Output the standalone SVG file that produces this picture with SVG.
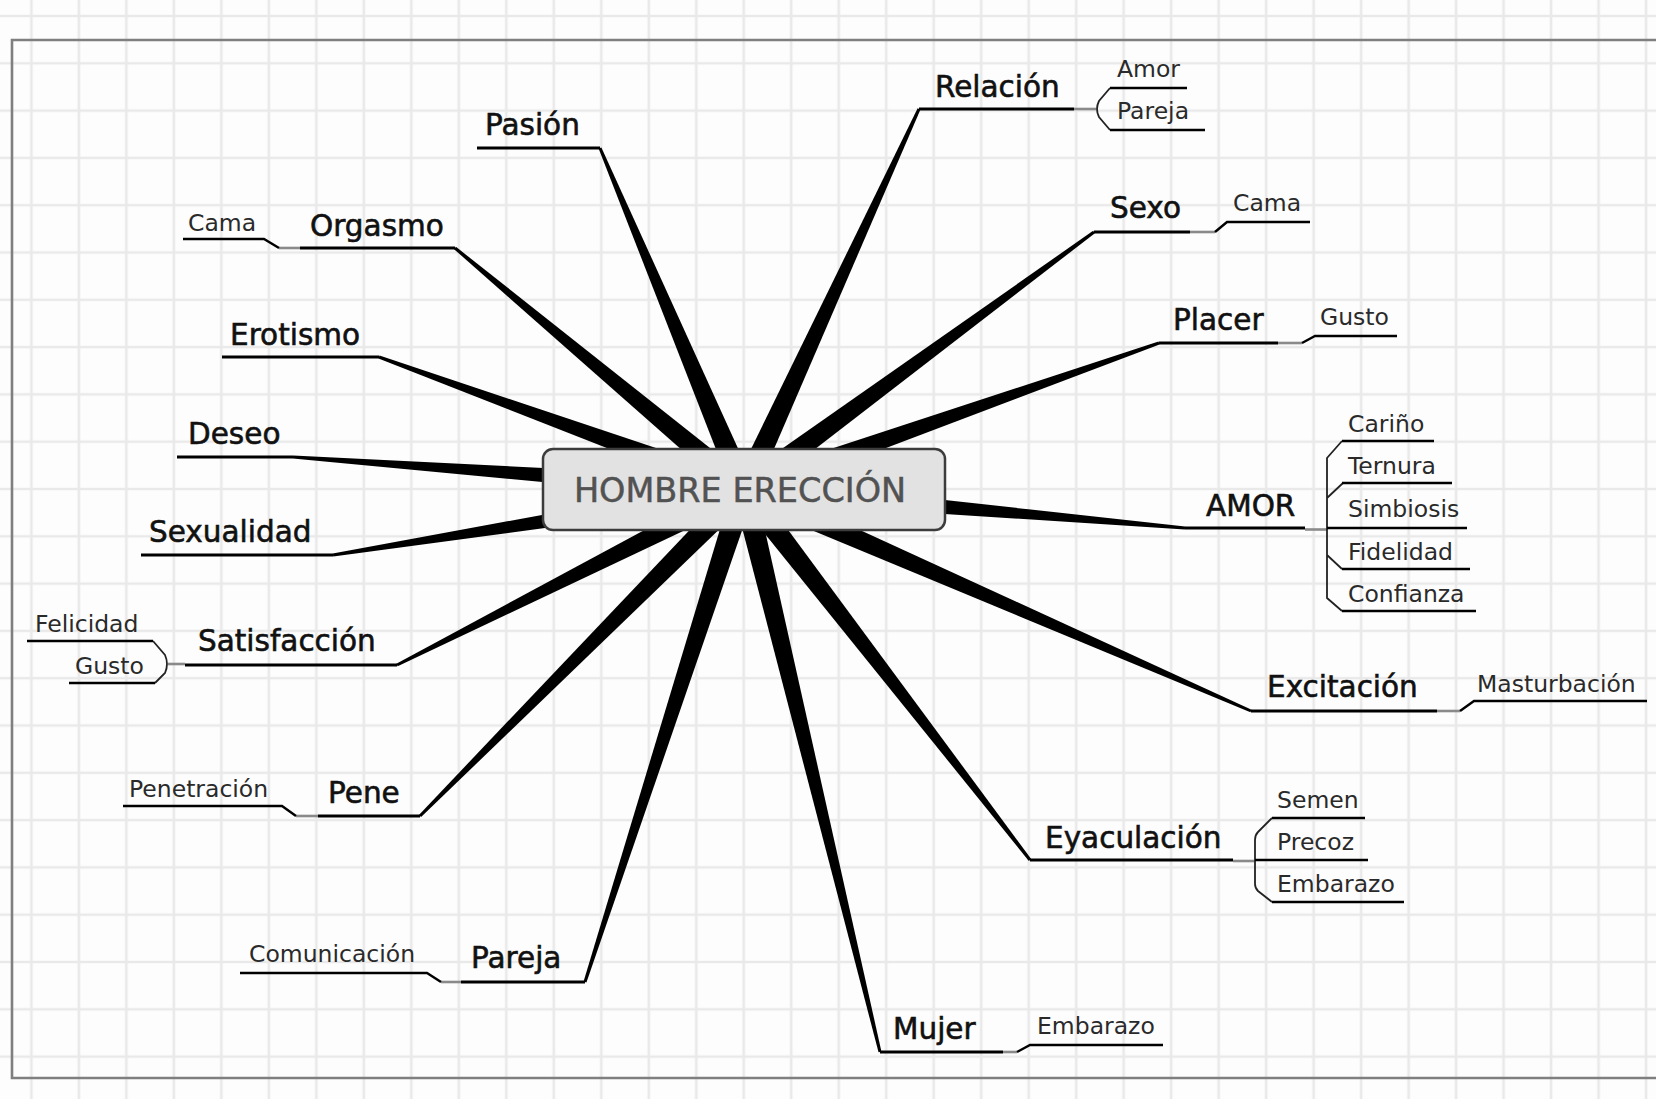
<svg xmlns="http://www.w3.org/2000/svg" width="1656" height="1099" viewBox="0 0 1656 1099">
  <defs>
    <pattern id="grid" x="7.655" y="-7.65" width="47.49" height="47.3" patternUnits="userSpaceOnUse">
      <path d="M23.745 0V47.3M0 23.65H47.49" stroke="#e9e9e9" stroke-width="2.6" fill="none"/>
    </pattern>
    <!-- unit taper: thin at x=0 (outer end), wide at x=1 (hub); scaled along x only -->
    <polygon id="taper" points="0,-1.5 1,-11.5 1,11.5 0,1.5"/>
  </defs>
  <style>
    .main { font-family: "DejaVu Sans", "Liberation Sans", sans-serif; font-size: 29.5px; fill: #111; stroke: #111; stroke-width: 0.6px; }
    .sub { font-family: "DejaVu Sans", "Liberation Sans", sans-serif; font-size: 23.5px; fill: #2a2a2a; }
    .center { font-family: "DejaVu Sans", "Liberation Sans", sans-serif; font-size: 33.5px; fill: #525252; stroke: #525252; stroke-width: 0.5px; }
    .ul { stroke: #000; stroke-width: 3; fill: none; }
    .sul { stroke: #000; stroke-width: 2.4; fill: none; }
    .stub { stroke: #8a8a8a; stroke-width: 2.6; fill: none; }
    .br { stroke: #222; stroke-width: 1.8; fill: none; }
    .wedge { fill: #000; }
  </style>

  <!-- background and frame -->
  <rect width="1656" height="1099" fill="#fdfdfd"/>
  <rect width="1656" height="1099" fill="url(#grid)"/>
  <path d="M1656 40H12V1078H1656" stroke="#7f7f7f" stroke-width="2.6" fill="none"/>

  <!-- tapered connectors from the hub -->
  <g id="connectors" class="wedge">
    <use href="#taper" transform="translate(600,148) rotate(67.13) scale(370.6,1)"/>
    <use href="#taper" transform="translate(455,248) rotate(39.88) scale(376.6,1)"/>
    <use href="#taper" transform="translate(379,357) rotate(19.95) scale(388.3,1)"/>
    <use href="#taper" transform="translate(293,457) rotate(4.12) scale(452.2,1)"/>
    <use href="#taper" transform="translate(333,555) rotate(-9.06) scale(416.2,1)"/>
    <use href="#taper" transform="translate(397,665) rotate(-26.83) scale(388.9,1)"/>
    <use href="#taper" transform="translate(420,816) rotate(-45.22) scale(460,1)"/>
    <use href="#taper" transform="translate(585,982) rotate(-72.11) scale(517.5,1)"/>
    <use href="#taper" transform="translate(880,1052) rotate(-103.59) scale(578.7,1)"/>
    <use href="#taper" transform="translate(1030,860) rotate(-127.67) scale(468,1)"/>
    <use href="#taper" transform="translate(1251,711) rotate(-156.4) scale(553.3,1)"/>
    <use href="#taper" transform="translate(1185,528) rotate(-175.01) scale(442.7,1)"/>
    <use href="#taper" transform="translate(1159,343) rotate(160.56) scale(440.1,1)"/>
    <use href="#taper" transform="translate(1094,232) rotate(143.66) scale(434.5,1)"/>
    <use href="#taper" transform="translate(919,109) rotate(114.7) scale(418.8,1)"/>
  </g>

  <!-- central topic -->
  <g id="hub">
    <rect x="543" y="449" width="402" height="81" rx="10" fill="#e2e2e2" stroke="#3c3c3c" stroke-width="2.5"/>
    <text class="center" x="740" y="502" text-anchor="middle">HOMBRE ERECCIÓN</text>
  </g>

  <!-- left side -->
  <g id="pasion">
    <text class="main" x="485" y="135">Pasión</text>
    <path class="ul" d="M477 148H600"/>
  </g>
  <g id="orgasmo">
    <text class="main" x="310" y="236">Orgasmo</text>
    <path class="ul" d="M300 248H455"/>
    <path class="stub" d="M279 248H300"/>
    <path class="sul" d="M183 239H264L279 248"/>
    <text class="sub" x="188" y="231">Cama</text>
  </g>
  <g id="erotismo">
    <text class="main" x="230" y="345">Erotismo</text>
    <path class="ul" d="M222 357H379"/>
  </g>
  <g id="deseo">
    <text class="main" x="188" y="444">Deseo</text>
    <path class="ul" d="M177 457H293"/>
  </g>
  <g id="sexualidad">
    <text class="main" x="149" y="542">Sexualidad</text>
    <path class="ul" d="M141 555H333"/>
  </g>
  <g id="satisfaccion">
    <text class="main" x="198" y="651">Satisfacción</text>
    <path class="ul" d="M185 665H397"/>
    <path class="stub" d="M168 664H185"/>
    <path class="br" d="M153 641L165 655Q169 664 165 673L155 683"/>
    <path class="sul" d="M27 641H153M69 683H155"/>
    <text class="sub" x="35" y="632">Felicidad</text>
    <text class="sub" x="75" y="674">Gusto</text>
  </g>
  <g id="pene">
    <text class="main" x="328" y="803">Pene</text>
    <path class="ul" d="M318 816H420"/>
    <path class="stub" d="M296 816H318"/>
    <path class="sul" d="M123 806H282L296 816"/>
    <text class="sub" x="129" y="797">Penetración</text>
  </g>
  <g id="pareja">
    <text class="main" x="471" y="968">Pareja</text>
    <path class="ul" d="M461 982H585"/>
    <path class="stub" d="M441 982H461"/>
    <path class="sul" d="M240 973H427L441 982"/>
    <text class="sub" x="249" y="962">Comunicación</text>
  </g>
  <g id="mujer">
    <text class="main" x="893" y="1039">Mujer</text>
    <path class="ul" d="M880 1052H1003"/>
    <path class="stub" d="M1003 1052H1017"/>
    <path class="sul" d="M1017 1052L1030 1045H1163"/>
    <text class="sub" x="1037" y="1034">Embarazo</text>
  </g>

  <!-- right side -->
  <g id="relacion">
    <text class="main" x="935" y="97">Relación</text>
    <path class="ul" d="M919 109H1074"/>
    <path class="stub" d="M1074 109H1096"/>
    <path class="br" d="M1110 88L1099 101Q1095 109 1099 117L1110 130"/>
    <path class="sul" d="M1110 88H1187M1110 130H1205"/>
    <text class="sub" x="1117" y="77">Amor</text>
    <text class="sub" x="1117" y="119">Pareja</text>
  </g>
  <g id="sexo">
    <text class="main" x="1110" y="218">Sexo</text>
    <path class="ul" d="M1094 232H1190"/>
    <path class="stub" d="M1190 232H1215"/>
    <path class="sul" d="M1215 232L1227 222H1310"/>
    <text class="sub" x="1233" y="211">Cama</text>
  </g>
  <g id="placer">
    <text class="main" x="1173" y="330">Placer</text>
    <path class="ul" d="M1159 343H1278"/>
    <path class="stub" d="M1278 343H1302"/>
    <path class="sul" d="M1302 343L1315 336H1397"/>
    <text class="sub" x="1320" y="325">Gusto</text>
  </g>
  <g id="amor">
    <text class="main" x="1206" y="516">AMOR</text>
    <path class="ul" d="M1185 528H1305"/>
    <path class="stub" d="M1305 529.5H1327"/>
    <path class="br" d="M1342 441L1327 458V598L1342 611M1327 498L1343 483M1327 555L1342 569"/>
    <path class="sul" d="M1342 441H1434M1342 483H1452M1327 528H1467M1342 569H1470M1342 611H1476"/>
    <text class="sub" x="1348" y="432">Cariño</text>
    <text class="sub" x="1348" y="474">Ternura</text>
    <text class="sub" x="1348" y="517">Simbiosis</text>
    <text class="sub" x="1348" y="560">Fidelidad</text>
    <text class="sub" x="1348" y="602">Confianza</text>
  </g>
  <g id="excitacion">
    <text class="main" x="1267" y="697">Excitación</text>
    <path class="ul" d="M1251 711H1437"/>
    <path class="stub" d="M1437 711H1460"/>
    <path class="sul" d="M1460 711L1474 701H1647"/>
    <text class="sub" x="1477" y="692">Masturbación</text>
  </g>
  <g id="eyaculacion">
    <text class="main" x="1045" y="848">Eyaculación</text>
    <path class="ul" d="M1030 860H1233"/>
    <path class="stub" d="M1233 861H1255"/>
    <path class="br" d="M1272 818L1258 832Q1255 835 1255 840V884Q1255 888 1258 891L1272 902"/>
    <path class="sul" d="M1272 818H1365M1255 860H1368M1272 902H1404"/>
    <text class="sub" x="1277" y="808">Semen</text>
    <text class="sub" x="1277" y="850">Precoz</text>
    <text class="sub" x="1277" y="892">Embarazo</text>
  </g>
</svg>
